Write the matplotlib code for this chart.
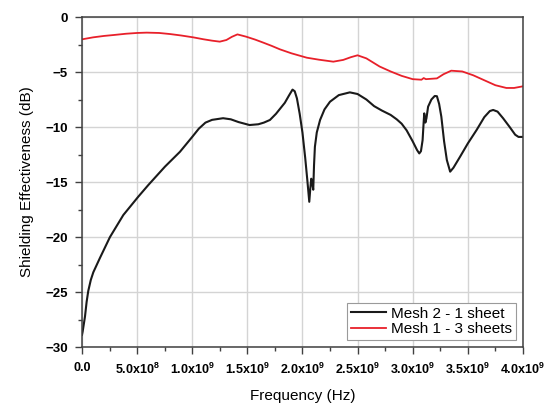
import matplotlib
matplotlib.use("Agg")
import matplotlib.pyplot as plt
import numpy as np
from matplotlib.ticker import MultipleLocator

plt.rcParams["font.family"] = ["Liberation Sans", "DejaVu Sans"]
plt.rcParams["mathtext.fontset"] = "custom"
plt.rcParams["mathtext.rm"] = "Liberation Sans"
plt.rcParams["mathtext.bf"] = "Liberation Sans:bold"

# frequency in GHz, shielding effectiveness in dB
f_mesh2 = [0.0, 0.006, 0.027, 0.042, 0.057, 0.08, 0.103, 0.163, 0.254, 0.375,
           0.511, 0.602, 0.753, 0.889, 1.0, 1.06, 1.12, 1.18, 1.28, 1.35, 1.42,
           1.52, 1.6, 1.65, 1.705, 1.76, 1.8, 1.84, 1.88, 1.91, 1.93, 1.95,
           1.975, 2.0, 2.025, 2.044, 2.062, 2.072, 2.08, 2.09, 2.098, 2.105,
           2.113, 2.13, 2.16, 2.2, 2.25, 2.33, 2.43, 2.5, 2.58, 2.65, 2.72,
           2.8, 2.855, 2.9, 2.945, 3.0, 3.04, 3.06, 3.075, 3.09, 3.1, 3.105,
           3.115, 3.125, 3.14, 3.17, 3.2, 3.22, 3.24, 3.26, 3.285, 3.31, 3.34,
           3.37, 3.43, 3.5, 3.58, 3.65, 3.7, 3.73, 3.77, 3.82, 3.88, 3.93,
           3.96, 4.0]
se_mesh2 = [-28.9, -28.6, -27.25, -25.9, -24.9, -23.9, -23.2, -21.9, -20.0,
            -18.0, -16.33, -15.27, -13.6, -12.25, -10.9, -10.15, -9.6, -9.35,
            -9.2, -9.3, -9.55, -9.82, -9.75, -9.6, -9.36, -8.8, -8.3, -7.8,
            -7.1, -6.6, -6.75, -7.4, -8.8, -10.5, -12.8, -14.8, -16.8, -15.5,
            -14.7, -15.2, -15.7, -13.5, -11.8, -10.5, -9.36, -8.4, -7.7, -7.1,
            -6.85, -7.0, -7.5, -8.1, -8.5, -8.9, -9.3, -9.7, -10.3, -11.3,
            -12.1, -12.4, -12.2, -11.2, -9.5, -8.76, -9.6, -9.2, -8.15, -7.5,
            -7.18, -7.2, -7.9, -9.06, -11.3, -13.0, -14.06, -13.7, -12.7,
            -11.5, -10.27, -9.1, -8.55, -8.45, -8.6, -9.2, -10.0, -10.7, -10.9,
            -10.9]

f_mesh1 = [0.0, 0.1, 0.2, 0.284, 0.4, 0.5, 0.587, 0.7, 0.8, 0.9, 1.01, 1.1, 1.18,
           1.25, 1.31, 1.36, 1.41, 1.49, 1.57, 1.645, 1.72, 1.796, 1.9, 2.04,
           2.15, 2.28, 2.37, 2.44, 2.5, 2.58, 2.7, 2.8, 2.9, 3.0, 3.08, 3.1,
           3.12, 3.22, 3.28, 3.35, 3.45, 3.55, 3.65, 3.75, 3.85, 3.92, 4.0]
se_mesh1 = [-2.03, -1.85, -1.72, -1.64, -1.52, -1.45, -1.42, -1.45, -1.55,
            -1.68, -1.85, -2.02, -2.15, -2.24, -2.09, -1.8, -1.58, -1.79, -2.05,
            -2.33, -2.62, -2.94, -3.3, -3.7, -3.88, -4.06, -3.9, -3.65, -3.48,
            -3.76, -4.5, -4.95, -5.35, -5.65, -5.7, -5.55, -5.65, -5.58, -5.2,
            -4.88, -4.95, -5.3, -5.75, -6.2, -6.45, -6.45, -6.3]

xticks = [0, 0.5e9, 1.0e9, 1.5e9, 2.0e9, 2.5e9, 3.0e9, 3.5e9, 4.0e9]
xticklabels = ["0.0", r"5.0x10$^{\mathbf{8}}$", r"1.0x10$^{\mathbf{9}}$",
               r"1.5x10$^{\mathbf{9}}$", r"2.0x10$^{\mathbf{9}}$",
               r"2.5x10$^{\mathbf{9}}$", r"3.0x10$^{\mathbf{9}}$",
               r"3.5x10$^{\mathbf{9}}$", r"4.0x10$^{\mathbf{9}}$"]

fig = plt.figure(figsize=(5.51, 4.07), dpi=100)
ax = fig.add_axes([0.1488, 0.1474, 0.8002, 0.8108])

ax.plot(np.array(f_mesh2) * 1e9, se_mesh2, color="#1a1a1a", lw=1.5,
        label="Mesh 2 - 1 sheet")
ax.plot(np.array(f_mesh1) * 1e9, se_mesh1, color="#e8202a", lw=1.3,
        label="Mesh 1 - 3 sheets")

ax.set_xlim(0, 4e9)
ax.set_ylim(-30, 0)
ax.set_xticks(xticks)
ax.set_xticklabels(xticklabels, fontsize=9, fontweight="bold")
ax.xaxis.set_minor_locator(MultipleLocator(0.25e9))
ax.yaxis.set_major_locator(MultipleLocator(5))
ax.yaxis.set_minor_locator(MultipleLocator(2.5))
for lab in ax.get_yticklabels():
    lab.set_fontweight("bold")
    lab.set_fontsize(9.5)

ax.tick_params(which="major", direction="out", length=5, width=1,
               color="#404040", top=False, right=False)
ax.tick_params(which="minor", direction="out", length=3, width=1,
               color="#404040", top=False, right=False)
ax.tick_params(axis="x", which="major", pad=6)
ax.tick_params(axis="y", which="major", pad=5)

ax.grid(True, which="major", color="#d4d4d4", lw=1)
ax.set_axisbelow(True)
for sp in ax.spines.values():
    sp.set_color("#404040")
    sp.set_linewidth(1.1)

ax.set_xlabel("Frequency (Hz)", fontsize=11, labelpad=8)
ax.set_ylabel("Shielding Effectiveness (dB)", fontsize=11, labelpad=8)

leg = ax.legend(loc="lower right", fontsize=11, frameon=True, fancybox=False,
                framealpha=1, edgecolor="#9a9a9a", handlelength=2.3,
                handletextpad=0.35, labelspacing=0.1, borderpad=0.25,
                borderaxespad=0.45)
leg.get_frame().set_linewidth(0.8)

fig.savefig("out.png", dpi=100)
